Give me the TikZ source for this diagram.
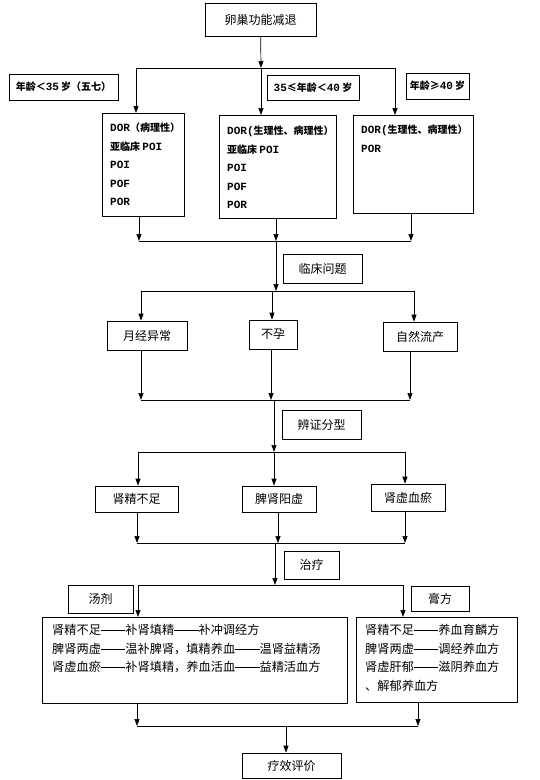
\documentclass[tikz,border=0pt]{standalone}
\usepackage{fontspec}
\setmainfont{Noto Sans CJK SC}
\newfontfamily\latmono{Liberation Mono}[Scale=1.1, BoldFont={Liberation Mono Bold}]
\usetikzlibrary{arrows.meta}

% two em dash as in the source
\newcommand\dashpair{\rule[0.32em]{2em}{0.05em}}
\newcommand\lat[1]{{\latmono #1}}

\tikzset{
  box/.style={draw, line width=0.7pt, inner sep=0pt},
  lbl/.style={box, font=\fontsize{10}{12}\selectfont\bfseries},
  txt/.style={inner sep=0pt, anchor=north west, align=left},
  kindtxt/.style={txt, font=\fontsize{10}{18.5}\selectfont\bfseries},
  ruletxt/.style={txt, font=\fontsize{12.2}{18.5}\selectfont},
  flow/.style={line width=0.7pt, -{Triangle[width=5pt,length=7pt]}},
  bar/.style={line width=0.7pt}
}

\begin{document}
\begin{tikzpicture}[x=1pt, y=-1pt, font=\fontsize{12}{14}\selectfont]
  \useasboundingbox (0,0) rectangle (539,780);

  % start
  \node[box, minimum width=111pt, minimum height=33pt] (start) at (260.5,19.5) {卵巢功能减退};

  % age split
  \coordinate (age) at (261,68);
  \coordinate (ageL) at (136,68);
  \coordinate (ageR) at (395,68);
  \draw[flow] (start) to (age);
  \draw[bar] (ageL) to (ageR);

  % age labels
  \node[lbl, minimum width=109pt, minimum height=26pt] (young) at (63.5,87) {年龄＜\lat{35} 岁（五七）};
  \node[lbl, minimum width=92pt, minimum height=25pt] (middle) at (313,87.5) {\lat{35}≤年龄＜\lat{40} 岁};
  \node[lbl, minimum width=63pt, minimum height=26pt] (older) at (437.5,86) {年龄≥\lat{40} 岁};

  % kinds of decline
  \node[box, anchor=north west, minimum width=82pt, minimum height=103pt] (pool1) at (102,113) {};
  \node[box, anchor=north west, minimum width=117pt, minimum height=103pt] (pool2) at (219,115) {};
  \node[box, anchor=north west, minimum width=120pt, minimum height=98pt] (pool3) at (353,115) {};
  \node[kindtxt] (pool1t) at (110,123) {\lat{DOR}（病理性）\\亚临床 \lat{POI}\\\lat{POI}\\\lat{POF}\\\lat{POR}};
  \node[kindtxt] (pool2t) at (227,126) {\lat{DOR(}生理性、病理性）\\亚临床 \lat{POI}\\\lat{POI}\\\lat{POF}\\\lat{POR}};
  \node[kindtxt] (pool3t) at (361,125) {\lat{DOR(}生理性、病理性）\\\lat{POR}};

  \draw[flow] (ageL) to (ageL |- pool1.north);
  \draw[flow] (age) to (age |- pool2.north);
  \draw[flow] (ageR) to (ageR |- pool3.north);

  % merge to clinical problems
  \coordinate (m1) at (276,241);
  \coordinate (m1L) at (139,241);
  \coordinate (m1R) at (411,241);
  \draw[flow] (pool1.south -| m1L) to (m1L);
  \draw[flow] (pool2.south -| m1) to (m1);
  \draw[flow] (pool3.south -| m1R) to (m1R);
  \draw[bar] (m1L) to (m1R);

  \coordinate (c1) at (276,291);
  \coordinate (c1L) at (141,291);
  \coordinate (c1M) at (272,291);
  \coordinate (c1R) at (414,291);
  \draw[flow] (m1) to (c1);
  \draw[bar] (c1L) to (c1R);
  \node[box, minimum width=79pt, minimum height=29pt] (clinic) at (322.5,268.5) {临床问题};

  % problems
  \node[box, minimum width=80pt, minimum height=29pt] (mens) at (147,335.5) {月经异常};
  \node[box, minimum width=48pt, minimum height=29pt] (infert) at (273,334.5) {不孕};
  \node[box, minimum width=74pt, minimum height=29pt] (abort) at (420,336.5) {自然流产};
  \draw[flow] (c1L) to (c1L |- mens.north);
  \draw[flow] (c1M) to (c1M |- infert.north);
  \draw[flow] (c1R) to (c1R |- abort.north);

  % merge to syndromes
  \coordinate (m2) at (274,400);
  \coordinate (m2L) at (141,400);
  \coordinate (m2M) at (271,400);
  \coordinate (m2R) at (410,400);
  \draw[flow] (mens.south -| m2L) to (m2L);
  \draw[flow] (infert.south -| m2M) to (m2M);
  \draw[flow] (abort.south -| m2R) to (m2R);
  \draw[bar] (m2L) to (m2R);

  \coordinate (d1) at (274,452);
  \coordinate (d1L) at (138,452);
  \coordinate (d1R) at (405,452);
  \draw[flow] (m2) to (d1);
  \draw[bar] (d1L) to (d1R);
  \node[box, minimum width=79pt, minimum height=29pt] (syndrome) at (321.5,424.5) {辨证分型};

  % syndrome types
  \node[box, minimum width=83pt, minimum height=26pt] (type1) at (136.5,499) {肾精不足};
  \node[box, minimum width=74pt, minimum height=26pt] (type2) at (279,499) {脾肾阳虚};
  \node[box, minimum width=74pt, minimum height=27pt] (type3) at (408,497.5) {肾虚血瘀};
  \draw[flow] (d1L) to (d1L |- type1.north);
  \draw[flow] (d1) to (d1 |- type2.north);
  \draw[flow] (d1R) to (d1R |- type3.north);

  % merge to treatment
  \coordinate (m3) at (275,543);
  \coordinate (m3L) at (137,543);
  \coordinate (m3M) at (278,543);
  \coordinate (m3R) at (405,543);
  \draw[flow] (type1.south -| m3L) to (m3L);
  \draw[flow] (type2.south -| m3M) to (m3M);
  \draw[flow] (type3.south -| m3R) to (m3R);
  \draw[bar] (m3L) to (m3R);

  \coordinate (s4) at (275,585);
  \coordinate (s4L) at (138,585);
  \coordinate (s4R) at (403,585);
  \draw[flow] (m3) to (s4);
  \draw[bar] (s4L) to (s4R);
  \node[box, minimum width=55pt, minimum height=28pt] (treat) at (311.5,565) {治疗};

  % decoction, paste
  \node[box, minimum width=65pt, minimum height=28pt] (decoctl) at (100.5,599) {汤剂};
  \node[box, minimum width=58pt, minimum height=25pt] (pastel) at (440,598.5) {膏方};
  \node[box, anchor=north west, minimum width=305pt, minimum height=86pt] (decoct) at (42,617) {};
  \node[box, anchor=north west, minimum width=161pt, minimum height=85pt] (paste) at (356,617) {};
  \node[ruletxt] (decoctt) at (52,624) {肾精不足\dashpair 补肾填精\dashpair 补冲调经方\\脾肾两虚\dashpair 温补脾肾，填精养血\dashpair 温肾益精汤\\肾虚血瘀\dashpair 补肾填精，养血活血\dashpair 益精活血方};
  \node[ruletxt] (pastet) at (365,624) {肾精不足\dashpair 养血育麟方\\脾肾两虚\dashpair 调经养血方\\肾虚肝郁\dashpair 滋阴养血方\\、解郁养血方};
  \draw[flow] (s4L) to (s4L |- decoct.north);
  \draw[flow] (s4R) to (s4R |- paste.north);

  % evaluation
  \coordinate (m5) at (286,726);
  \coordinate (m5L) at (137,726);
  \coordinate (m5R) at (418,726);
  \draw[flow] (decoct.south -| m5L) to (m5L);
  \draw[flow] (paste.south -| m5R) to (m5R);
  \draw[bar] (m5L) to (m5R);
  \node[box, minimum width=99pt, minimum height=25pt] (effect) at (291.5,765.5) {疗效评价};
  \draw[flow] (m5) to (m5 |- effect.north);
\end{tikzpicture}
\end{document}
